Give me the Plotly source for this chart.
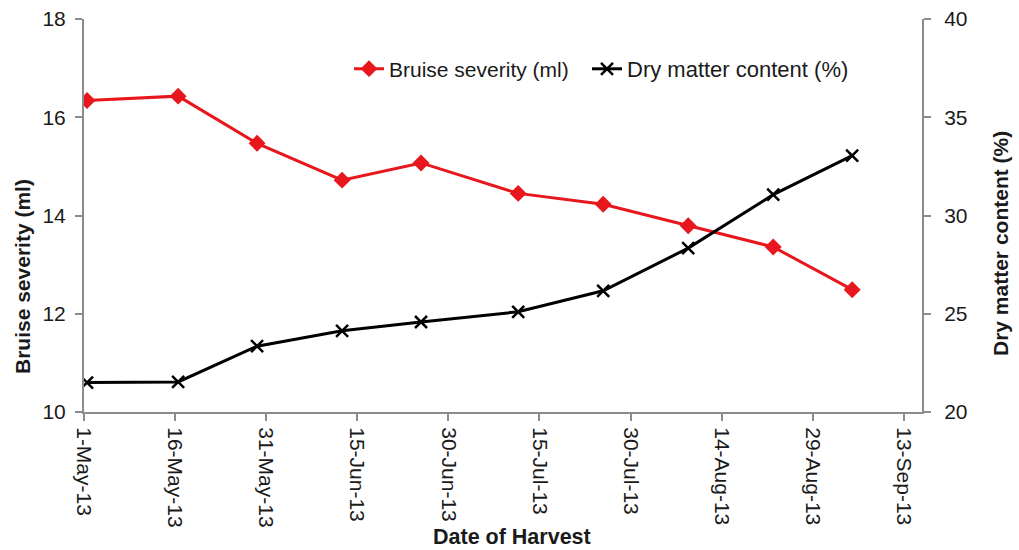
import pandas as pd
import plotly.graph_objects as go

harvest_dates = ["2013-05-01", "2013-05-16", "2013-05-29", "2013-06-12", "2013-06-25",
                 "2013-07-11", "2013-07-25", "2013-08-08", "2013-08-22", "2013-09-04"]
bruise_severity = [16.34, 16.43, 15.47, 14.72, 15.07, 14.45, 14.23, 13.79, 13.36, 12.49]
dry_matter = [21.50, 21.53, 23.35, 24.13, 24.58, 25.10, 26.17, 28.34, 31.06, 33.05]

tick_dates = ["2013-05-01", "2013-05-16", "2013-05-31", "2013-06-15", "2013-06-30",
              "2013-07-15", "2013-07-30", "2013-08-14", "2013-08-29", "2013-09-13"]
tick_labels = ["1-May-13", "16-May-13", "31-May-13", "15-Jun-13", "30-Jun-13",
               "15-Jul-13", "30-Jul-13", "14-Aug-13", "29-Aug-13", "13-Sep-13"]

RED = "#e8161d"
AXIS = "#8c8c8c"
TXT = "#1a1a1a"
FONT = "Liberation Sans, Arial, sans-serif"

L, R, T, B = 84, 97, 19, 138
PW, PH = 1019 - L - R, 550 - T - B


def px_x(x):
    return (x - L) / PW


def px_y(y):
    return (550 - B - y) / PH


# Excel-style date axis: each point sits in the middle of its day
x_points = pd.to_datetime(harvest_dates) + pd.Timedelta(hours=12)

fig = go.Figure()
fig.add_trace(go.Scatter(
    x=x_points, y=bruise_severity, name="Bruise severity (ml)",
    mode="lines+markers", line=dict(color=RED, width=3),
    marker=dict(symbol="diamond", size=13, color=RED), yaxis="y", legend="legend"))
fig.add_trace(go.Scatter(
    x=x_points, y=dry_matter, name="Dry matter content (%)",
    mode="lines+markers", line=dict(color="#000000", width=3),
    marker=dict(symbol="x-thin", size=12, color="#000000",
                line=dict(color="#000000", width=2.5)), yaxis="y2", legend="legend2"))

leg_common = dict(orientation="h", xanchor="left", yanchor="middle",
                  bgcolor="rgba(0,0,0,0)")

axis_common = dict(showgrid=False, zeroline=False, showline=True, linecolor=AXIS, linewidth=2,
                   ticks="outside", ticklen=7, tickcolor=AXIS, tickwidth=1.5,
                   automargin=False, tickfont=dict(size=21, color=TXT))

fig.update_layout(
    width=1019, height=550,
    margin=dict(l=L, r=R, t=T, b=B, autoexpand=False),
    paper_bgcolor="white", plot_bgcolor="white",
    font=dict(family=FONT, size=21, color=TXT),
    showlegend=True,
    legend=dict(x=px_x(349), y=px_y(69), font=dict(size=21, color=TXT), **leg_common),
    legend2=dict(x=px_x(587), y=px_y(69), font=dict(size=22, color=TXT), **leg_common),
    xaxis=dict(type="date", range=["2013-05-01", "2013-09-16"],
               tickvals=tick_dates, ticktext=tick_labels, tickangle=90,
               ticklabelstandoff=2, **axis_common),
    yaxis=dict(range=[10, 18], tickvals=[10, 12, 14, 16, 18],
               ticklabelstandoff=5, **axis_common),
    yaxis2=dict(range=[20, 40], tickvals=[20, 25, 30, 35, 40], overlaying="y", side="right",
                ticklabelstandoff=9, **axis_common),
)

fig.add_annotation(text="<b>Bruise severity (ml)</b>", textangle=-90, xref="paper", yref="paper",
                   x=px_x(22), y=px_y(277), xanchor="center", yanchor="middle", showarrow=False,
                   font=dict(size=21, color=TXT))
fig.add_annotation(text="<b>Dry matter content (%)</b>", textangle=-90, xref="paper", yref="paper",
                   x=px_x(1001), y=px_y(244), xanchor="center", yanchor="middle", showarrow=False,
                   font=dict(size=21, color=TXT))
fig.add_annotation(text="<b>Date of Harvest</b>", xref="paper", yref="paper",
                   x=px_x(512), y=px_y(537), xanchor="center", yanchor="middle", showarrow=False,
                   font=dict(size=21.5, color=TXT))

fig.write_html("out.html", config={"displayModeBar": False},
               post_script="document.body.style.margin='0';document.body.style.overflow='hidden';")
